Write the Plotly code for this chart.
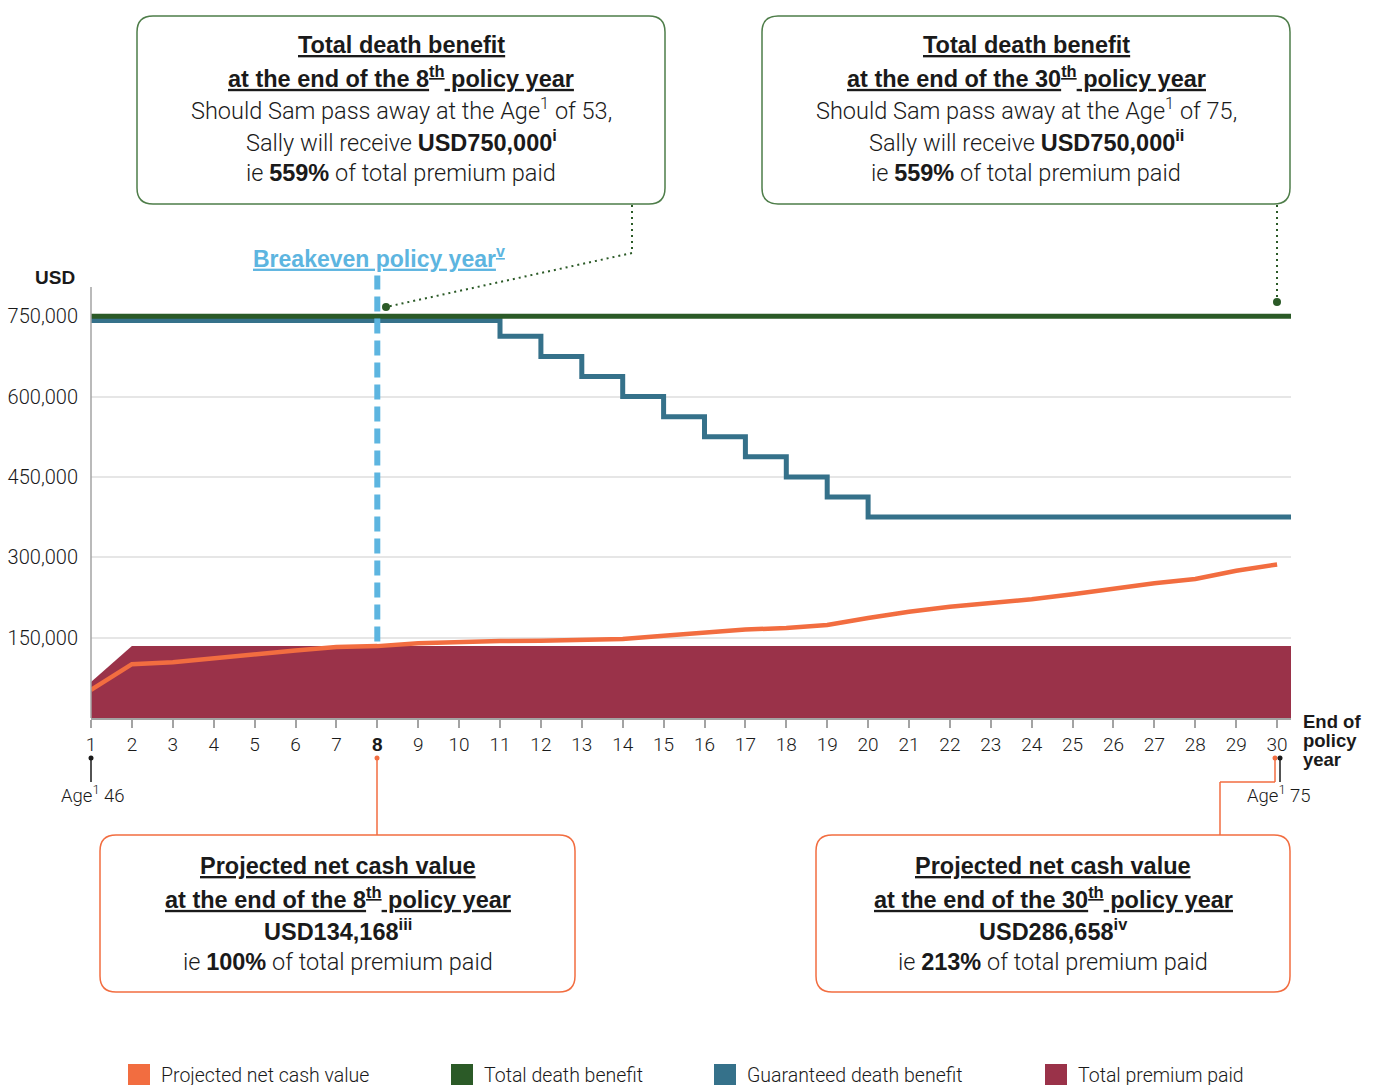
import plotly.graph_objects as go

# ---- data -------------------------------------------------------------
years = list(range(1, 31))
net_cash_value = [52400, 100400, 104100, 110800, 117100, 125800, 132700, 134168, 139500, 142500,
                  143800, 144400, 145000, 147600, 153700, 160000, 165000, 168100, 173700, 186800,
                  198500, 207800, 214700, 221600, 230900, 242100, 251500, 259500, 275000, 286658]
total_death_benefit = [750000, 750000, 750000, 750000, 750000, 750000, 750000, 750000, 750000, 750000,
                       750000, 750000, 750000, 750000, 750000, 750000, 750000, 750000, 750000, 750000,
                       750000, 750000, 750000, 750000, 750000, 750000, 750000, 750000, 750000, 750000]
guaranteed_death_benefit = [742000, 742000, 742000, 742000, 742000, 742000, 742000, 742000, 742000, 742000,
                            712500, 675000, 637500, 600000, 562500, 525000, 487500, 450000, 412500, 375000,
                            375000, 375000, 375000, 375000, 375000, 375000, 375000, 375000, 375000, 375000]
total_premium_paid = [67084, 134168, 134168, 134168, 134168, 134168, 134168, 134168, 134168, 134168,
                      134168, 134168, 134168, 134168, 134168, 134168, 134168, 134168, 134168, 134168,
                      134168, 134168, 134168, 134168, 134168, 134168, 134168, 134168, 134168, 134168]
y_ticks = [150000, 300000, 450000, 600000, 750000]
breakeven_year = 8

# ---- styling ----------------------------------------------------------
ORANGE = "#f26d40"
GREEN = "#2b5a27"
BOX_GREEN = "#4e7d49"
TEAL = "#35718a"
CRIMSON = "#9a3249"
SKY = "#5db5e0"
GREY = "#a3a3a3"
TXT = "#1a1a1a"
FONT = "Roboto"
BOLD_FONT = "Liberation Sans"

W, H = 1375, 1085
L, R, T, B = 91, 84, 268, 367
PW, PH = W - L - R, H - T - B
Y_MAX = 840000
X_END = 30.34


def bold(s):
    return f'<span style="font-family:{BOLD_FONT};font-weight:bold">{s}</span>'


tick_labels = [bold(str(y)) if y == breakeven_year else str(y) for y in years]


def px(x):
    """page pixel x -> paper x"""
    return (x - L) / PW


def py(y):
    """page pixel y -> paper y"""
    return (H - B - y) / PH


def extend(vals):
    # carry the final level across to the right edge of the plot
    return vals + [vals[-1]]


x_ext = years + [X_END]

fig = go.Figure()
fig.add_trace(go.Scatter(x=x_ext, y=extend(total_premium_paid), mode="lines", fill="tozeroy",
                         fillcolor=CRIMSON, line=dict(color=CRIMSON, width=0), name="Total premium paid"))
fig.add_trace(go.Scatter(x=years, y=net_cash_value, mode="lines",
                         line=dict(color=ORANGE, width=4.5), name="Projected net cash value"))
fig.add_trace(go.Scatter(x=x_ext, y=extend(guaranteed_death_benefit), mode="lines",
                         line=dict(color=TEAL, width=5, shape="hv"), name="Guaranteed death benefit"))
fig.add_trace(go.Scatter(x=x_ext, y=extend(total_death_benefit), mode="lines",
                         line=dict(color=GREEN, width=5), name="Total death benefit"))

shapes = []
annotations = []


def line(x0, y0, x1, y1, color, width=1.5, dash=None):
    shapes.append(dict(type="line", xref="paper", yref="paper", x0=px(x0), y0=py(y0), x1=px(x1), y1=py(y1),
                       line=dict(color=color, width=width, dash=dash), layer="above"))


def dot(cx, cy, r, color):
    shapes.append(dict(type="circle", xref="paper", yref="paper", x0=px(cx - r), y0=py(cy - r),
                       x1=px(cx + r), y1=py(cy + r), fillcolor=color, line=dict(width=0), layer="above"))


def rounded_box(x0, y0, x1, y1, r, color):
    p = (f"M {px(x0 + r)},{py(y0)} L {px(x1 - r)},{py(y0)} Q {px(x1)},{py(y0)} {px(x1)},{py(y0 + r)} "
         f"L {px(x1)},{py(y1 - r)} Q {px(x1)},{py(y1)} {px(x1 - r)},{py(y1)} "
         f"L {px(x0 + r)},{py(y1)} Q {px(x0)},{py(y1)} {px(x0)},{py(y1 - r)} "
         f"L {px(x0)},{py(y0 + r)} Q {px(x0)},{py(y0)} {px(x0 + r)},{py(y0)} Z")
    shapes.append(dict(type="path", xref="paper", yref="paper", path=p,
                       line=dict(color=color, width=1.5), fillcolor="white", layer="above"))


def text(x, y, s, size=23.5, color=TXT, xanchor="center", weight=300):
    annotations.append(dict(x=px(x), y=py(y), xref="paper", yref="paper", text=s, showarrow=False,
                            xanchor=xanchor, yanchor="middle",
                            font=dict(family=FONT, size=size, color=color, weight=weight)))


# y axis line
line(L, H - B, L, 287, GREY, 1.5)

# breakeven marker
shapes.append(dict(type="line", xref="x", yref="y", x0=breakeven_year, x1=breakeven_year,
                   y0=143000, y1=826000, line=dict(color=SKY, width=6, dash="15px,7px"), layer="above"))
text(379, 257, bold("<u>Breakeven policy year<sup>v</sup></u>"), size=23, color=SKY)

# callout boxes: total death benefit
rounded_box(137, 16, 665, 204, 16, BOX_GREEN)
rounded_box(762, 16, 1290, 204, 16, BOX_GREEN)
rows_left = [bold("<u>Total death benefit</u>"),
             bold("<u>at the end of the 8<sup>th</sup> policy year</u>"),
             "Should Sam pass away at the Age<sup>1</sup> of 53,",
             "Sally will receive " + bold(f"USD{total_death_benefit[breakeven_year - 1]:,}<sup>i</sup>"),
             "ie " + bold("559%") + " of total premium paid"]
rows_right = [bold("<u>Total death benefit</u>"),
              bold("<u>at the end of the 30<sup>th</sup> policy year</u>"),
              "Should Sam pass away at the Age<sup>1</sup> of 75,",
              "Sally will receive " + bold(f"USD{total_death_benefit[-1]:,}<sup>ii</sup>"),
              "ie " + bold("559%") + " of total premium paid"]
for i, (a, b) in enumerate(zip(rows_left, rows_right)):
    text(401, 45 + 32 * i, a)
    text(1026, 45 + 32 * i, b)

# dotted leaders to the death benefit line
line(632, 205, 632, 253, GREEN, 2, "2px,4px")
line(632, 253, 386, 307, GREEN, 2, "2px,4px")
dot(386, 307, 4, GREEN)
line(1277, 205, 1277, 302, GREEN, 2, "2px,4px")
dot(1277, 302, 4, GREEN)

# callout boxes: projected net cash value
rounded_box(100, 835, 575, 992, 16, ORANGE)
rounded_box(816, 835, 1290, 992, 16, ORANGE)
rows_left = [bold("<u>Projected net cash value</u>"),
             bold("<u>at the end of the 8<sup>th</sup> policy year</u>"),
             bold(f"USD{net_cash_value[breakeven_year - 1]:,}<sup>iii</sup>"),
             "ie " + bold("100%") + " of total premium paid"]
rows_right = [bold("<u>Projected net cash value</u>"),
              bold("<u>at the end of the 30<sup>th</sup> policy year</u>"),
              bold(f"USD{net_cash_value[-1]:,}<sup>iv</sup>"),
              "ie " + bold("213%") + " of total premium paid"]
for i, (a, b) in enumerate(zip(rows_left, rows_right)):
    text(338, 866 + 32 * i, a)
    text(1053, 866 + 32 * i, b)

# leaders below the x axis
line(377, 758, 377, 835, ORANGE, 1.5)
dot(377, 758, 2.5, ORANGE)
line(1275, 758, 1275, 782, ORANGE, 1.5)
line(1275, 782, 1220, 782, ORANGE, 1.5)
line(1220, 782, 1220, 835, ORANGE, 1.5)
dot(1275, 758, 2.5, ORANGE)
line(91, 758, 91, 782, TXT, 1.5)
dot(91, 758, 2.5, TXT)
line(1280, 758, 1280, 782, TXT, 1.5)
dot(1280, 758, 2.5, TXT)
text(93, 794, "Age<sup>1</sup> 46", size=18.5)
text(1279, 794, "Age<sup>1</sup> 75", size=18.5)

# axis captions
text(55, 277, bold("USD"), size=19)
text(1301, 721, bold("End of"), size=18.5, xanchor="left")
text(1301, 740, bold("policy"), size=18.5, xanchor="left")
text(1301, 759, bold("year"), size=18.5, xanchor="left")

# legend
legend_items = [("Projected net cash value", ORANGE, 128),
                ("Total death benefit", GREEN, 451),
                ("Guaranteed death benefit", TEAL, 714),
                ("Total premium paid", CRIMSON, 1045)]
for label, color, x0 in legend_items:
    shapes.append(dict(type="rect", xref="paper", yref="paper", x0=px(x0), x1=px(x0 + 22),
                       y0=py(1064), y1=py(1088), fillcolor=color, line=dict(width=0), layer="above"))
    text(x0 + 31, 1075, label, size=19.5, xanchor="left")

fig.update_layout(
    width=W, height=H,
    margin=dict(l=L, r=R, t=T, b=B, pad=0, autoexpand=False),
    paper_bgcolor="white", plot_bgcolor="white",
    showlegend=False,
    font=dict(family=FONT, size=18, color=TXT, weight=300),
    shapes=shapes, annotations=annotations,
    xaxis=dict(range=[1, X_END], tickvals=years, ticktext=tick_labels, showgrid=False, zeroline=False,
               showline=True, linecolor=GREY, linewidth=1.5, ticks="outside", ticklen=8, tickwidth=1.5,
               tickcolor=GREY, automargin=False,
               tickfont=dict(family=FONT, size=19, color=TXT, weight=300)),
    yaxis=dict(range=[0, Y_MAX], tickvals=y_ticks, ticktext=[f"{v:,}" for v in y_ticks],
               showgrid=True, gridcolor="#e6e6e6", gridwidth=1.5, zeroline=False, showline=False,
               ticks="", ticklabelstandoff=12, automargin=False,
               tickfont=dict(family=FONT, size=20, color=TXT, weight=300)),
)

fig.write_html("out.html")
